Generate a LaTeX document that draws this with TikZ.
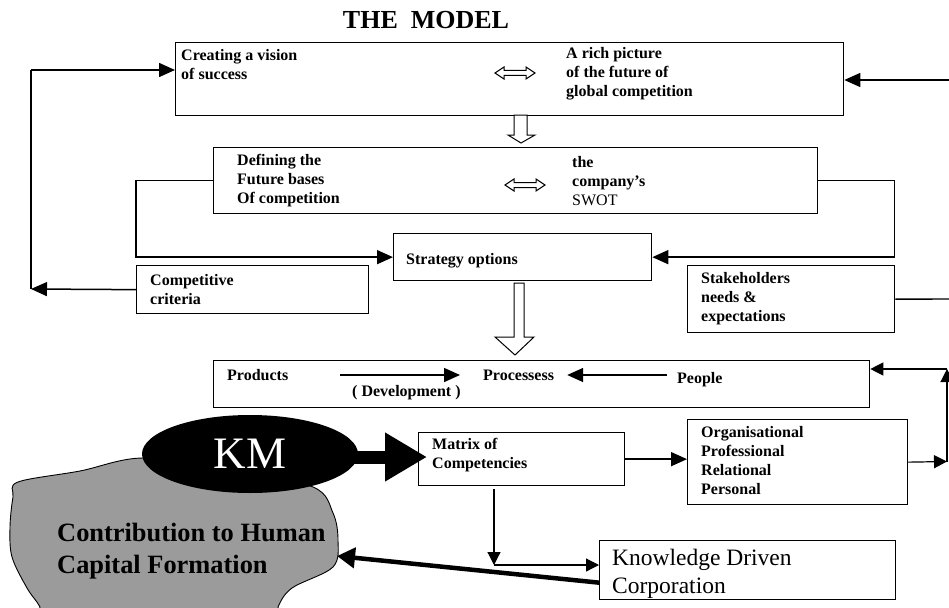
\documentclass[tikz,border=0pt]{standalone}
\usepackage{fontspec}
\setmainfont{Liberation Serif}
\usetikzlibrary{arrows.meta,shapes.geometric,calc}
\definecolor{blobgray}{RGB}{155,155,155}
\begin{document}
\begin{tikzpicture}[x=1pt,y=-1pt,
  box/.style={draw, line width=1.3pt, anchor=north west, inner sep=0pt},
  txt/.style={anchor=west, align=left, inner sep=0pt, font=\fontsize{16}{19}\selectfont\bfseries},
  ln/.style={line width=1.4pt},
  arr/.style={line width=1.5pt, -{Triangle[length=16pt,width=14pt]}},
  sarr/.style={line width=1.2pt, -{Triangle[length=13pt,width=13pt]}},
  hollow/.style={draw, line width=1pt, fill=white},
  dblarrow/.pic={\draw[line width=1pt, fill=white] (-20,0) -- (-11,-6) -- (-11,-2.5) -- (11,-2.5) -- (11,-6) -- (20,0) -- (11,6) -- (11,2.5) -- (-11,2.5) -- (-11,6) -- cycle;}
]
\fill[white] (0,0) rectangle (949,607);
\useasboundingbox (0,0) rectangle (949,607);

% title
\node[font=\fontsize{26}{30}\selectfont\bfseries] (title) at (426,20) {THE\ \ MODEL};

% boxes
\node[box, minimum width=668pt, minimum height=73pt] (b1) at (175,42) {};
\node[box, minimum width=604pt, minimum height=66pt] (b2) at (213,147) {};
\node[box, minimum width=258pt, minimum height=47pt] (so) at (393,233) {};
\node[box, minimum width=232pt, minimum height=48pt] (cc) at (136,265) {};
\node[box, minimum width=207pt, minimum height=67pt] (sh) at (687,265) {};
\node[box, minimum width=656pt, minimum height=47pt] (pb) at (213,360) {};
\node[box, minimum width=206pt, minimum height=53pt] (mat) at (418,432) {};
\node[box, minimum width=220pt, minimum height=85pt] (org) at (687,419) {};
\node[box, minimum width=296pt, minimum height=59pt] (kdc) at (599,540) {};

% texts
\node[txt] (t1a) at (181,65) {Creating a vision\\of success};
\node[txt] (t1b) at (566,74) {A rich picture\\of the future of\\global competition};
\node[txt] (t2a) at (237,181) {Defining the\\Future bases\\Of competition};
\node[txt] (t2b) at (572,181) {the\\company’s\\\mdseries SWOT};
\node[txt] (tso) at (406,261) {Strategy options};
\node[txt] (tcc) at (150,290) {Competitive\\criteria};
\node[txt] (tsh) at (701,299) {Stakeholders\\needs \&\\expectations};
\node[txt] (prod) at (227,375) {Products};
\node[txt] (dev) at (352,393) {( Development )};
\node[txt] (proc) at (483,375) {Processess};
\node[txt] (peo) at (677,380) {People};
\node[txt] (tmat) at (432,455) {Matrix of\\Competencies};
\node[txt] (torg) at (701,461) {Organisational\\Professional\\Relational\\Personal};
\node[anchor=west, align=left, inner sep=0pt, font=\fontsize{23.5}{28}\selectfont] (tkdc) at (612,574) {Knowledge Driven\\Corporation};

% hollow double arrows
\pic at (515,73) {dblarrow};
\pic at (525,185) {dblarrow};

% hollow down arrows
\draw[hollow] (514,115) -- (514,135) -- (508,135) -- (521,143) -- (535,135) -- (527,135) -- (527,115) -- cycle;
\draw[hollow] (514,283) -- (514,337) -- (495,337) -- (515,355) -- (534,337) -- (524,337) -- (524,283) -- cycle;

% free-end coordinates
\coordinate (L1) at (31,289);
\coordinate (L2) at (31,70);
\coordinate (R1) at (949,80);
\coordinate (R2) at (949,299);
\coordinate (R3) at (947,369);
\coordinate (R4) at (947,461.5);
\coordinate (D1) at (494,565);
\coordinate (blobR) at (337,556);

% left loop
\draw[arr] (cc.west) -- (L1);
\draw[ln] (L1) -- (L2);
\draw[arr] (L2) -- (L2 -| b1.west);
% right into box 1
\draw[arr] (R1) -- (R1 -| b1.east);
% box2 to strategy options
\draw[arr] (b2.west) -- ++(-77,0) |- (so.west);
\draw[arr] (b2.east) -- ++(76,0) |- (so.east);
% stakeholders line
\draw[ln] (sh.east) -- (R2);
% products row
\draw[arr] ([xshift=52pt]prod.east) -- ([xshift=-23pt]proc.west);
\draw[arr] ([xshift=-10pt]peo.west |- proc.east) -- ([xshift=13pt]proc.east);
% right loop
\draw[sarr] (org.east) -- (R4);
\draw[sarr] (R4) -- (R3);
\draw[sarr] (R3) -- (R3 -| pb.east);
% matrix connections
\draw[arr] (mat.east) -- (mat.east -| org.west);
\draw[sarr] ($(D1 |- mat.south)+(0,3)$) -- (D1);
\draw[sarr] (D1) -- (D1 -| kdc.west);

% blob
\draw[fill=blobgray, line width=0.9pt] plot[smooth cycle, tension=0.55] coordinates {(18,482) (80,471) (143,458) (230,470) (313,487) (333,513) (338,540) (333,567) (292,588) (278,607) (275,625) (45,625) (40,607) (27,588) (12,557) (10,527) (13,497)};
\node[anchor=west, align=left, inner sep=0pt, font=\fontsize{26.4}{32}\selectfont\bfseries] (tblob) at (57,551) {Contribution to Human\\Capital Formation};

% KM ellipse and thick arrow
\node[ellipse, fill=black, minimum width=216pt, minimum height=78pt, inner sep=0pt, text=white, font=\fontsize{45}{45}\selectfont] (km) at (250,454) {KM};
\draw[line width=13pt, -{Triangle[length=42pt,width=46pt]}] ($(km.east)+(-6,3)$) -- ($(km.east -| mat.west)+(9,3)$);

% KDC to blob
\draw[line width=4.5pt, -{Triangle[length=18pt,width=20pt]}] ($(kdc.west)+(0,12.5)$) -- (blobR);
\end{tikzpicture}
\end{document}
